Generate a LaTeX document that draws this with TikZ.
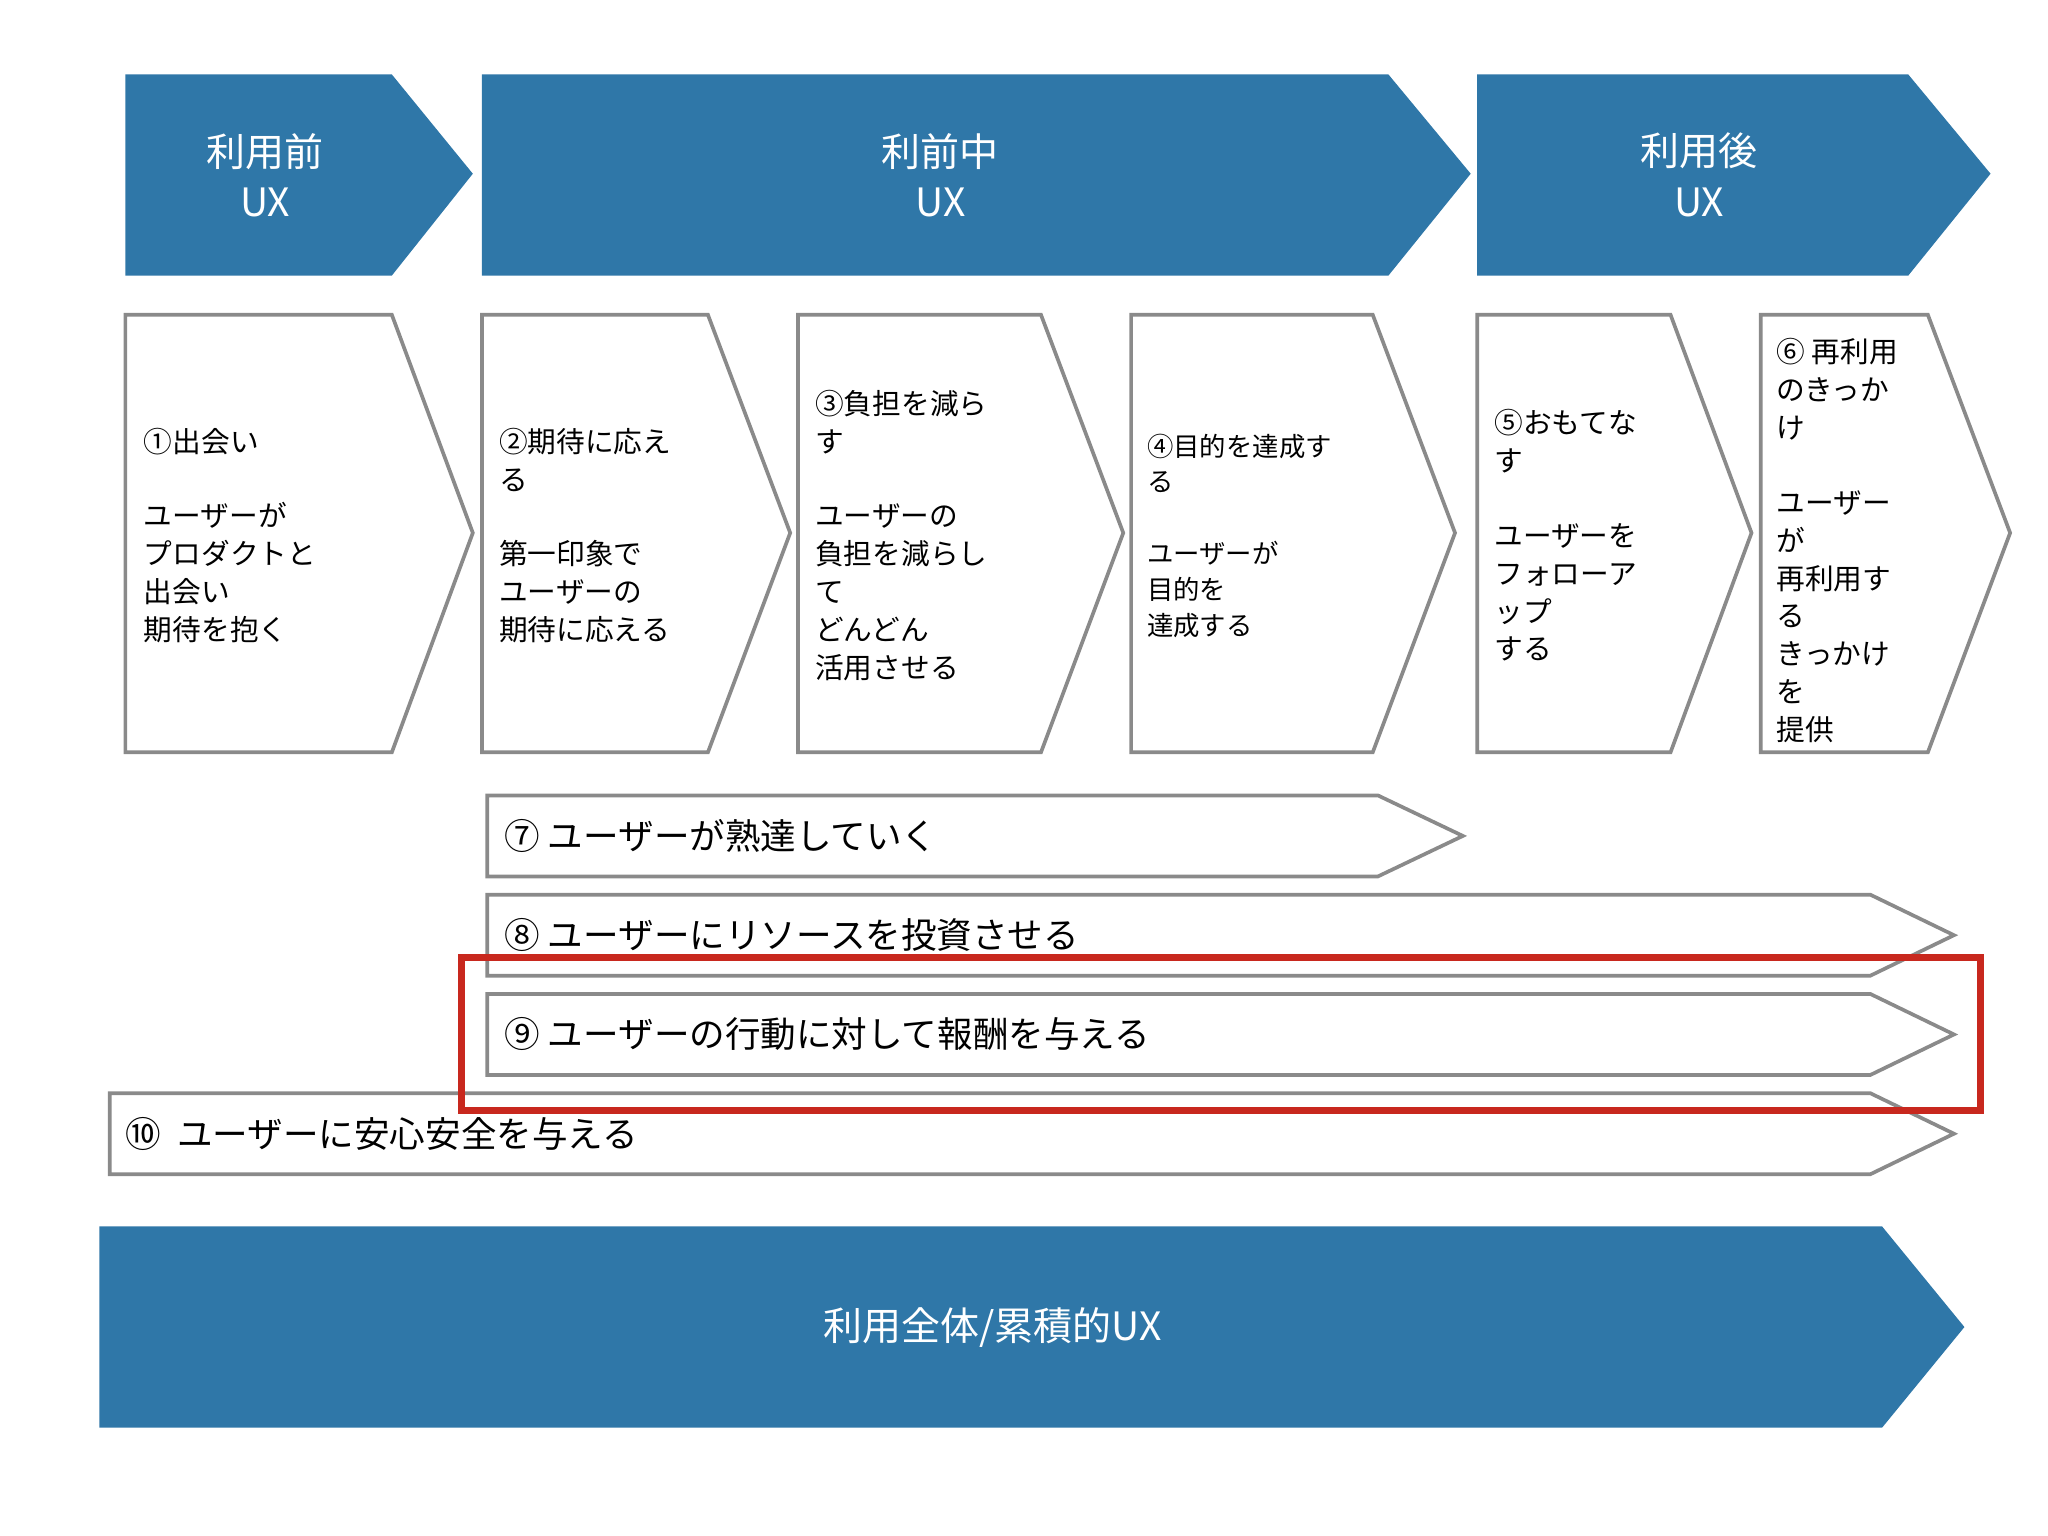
\documentclass[tikz,border=0pt]{standalone}
\usepackage{fontspec}
\setmainfont{Noto Sans CJK JP}
\begin{document}
\begin{tikzpicture}[x=0.02cm,y=-0.02cm]
\definecolor{ublue}{HTML}{2F77A8}
\definecolor{ugray}{HTML}{8A8A8A}
\definecolor{ured}{HTML}{C8281E}
\tikzset{
  bluechev/.style={fill=ublue,draw=none},
  whitechev/.style={fill=white,draw=ugray,line width=1.6pt},
  toplabel/.style={text=white,align=center,font=\fontsize{17}{22}\selectfont},
  boxtext/.style={anchor=west,align=left,font=\fontsize{12.5}{16.5}\selectfont},
  bartext/.style={anchor=west,font=\fontsize{15.5}{19}\selectfont}
}
\useasboundingbox (0,0) rectangle (1568,1176);
% top chevrons
\path[bluechev] (96,57) -- (300,57) -- (362,133) -- (300,211) -- (96,211) -- cycle;
\node[toplabel] (t1) at (203,134) {利用前\\UX};
\path[bluechev] (369,57) -- (1063,57) -- (1126,133) -- (1063,211) -- (369,211) -- cycle;
\node[toplabel] (t2) at (720,134) {利前中\\UX};
\path[bluechev] (1131,57) -- (1461,57) -- (1524,133) -- (1461,211) -- (1131,211) -- cycle;
\node[toplabel] (t3) at (1301,134) {利用後\\UX};
% step chevrons
\draw[whitechev] (96,241) -- (300,241) -- (362,408) -- (300,576) -- (96,576) -- cycle;
\node[boxtext] (b1) at (104,410) {①出会い\\[16pt]ユーザーが\\プロダクトと\\出会い\\期待を抱く};
\draw[whitechev] (369,241) -- (542,241) -- (605,408) -- (542,576) -- (369,576) -- cycle;
\node[boxtext] (b2) at (376,410) {②期待に応え\\る\\[16pt]第一印象で\\ユーザーの\\期待に応える};
\draw[whitechev] (611,241) -- (797,241) -- (860,408) -- (797,576) -- (611,576) -- cycle;
\node[boxtext] (b3) at (618,410) {③負担を減ら\\す\\[16pt]ユーザーの\\負担を減らし\\て\\どんどん\\活用させる};
\draw[whitechev] (866,241) -- (1051,241) -- (1114,408) -- (1051,576) -- (866,576) -- cycle;
\node[boxtext,font=\fontsize{11.5}{15.5}\selectfont] (b4) at (872,410) {④目的を達成す\\る\\[16pt]ユーザーが\\目的を\\達成する};
\draw[whitechev] (1131,241) -- (1279,241) -- (1341,408) -- (1279,576) -- (1131,576) -- cycle;
\node[boxtext] (b5) at (1138,410) {⑤おもてな\\す\\[16pt]ユーザーを\\フォローア\\ップ\\する};
\draw[whitechev] (1348,241) -- (1476,241) -- (1539,408) -- (1476,576) -- (1348,576) -- cycle;
\node[boxtext] (b6) at (1354,414) {⑥ 再利用\\のきっか\\け\\[16pt]ユーザー\\が\\再利用す\\る\\きっかけ\\を\\提供};
% bars
\draw[whitechev] (373,609) -- (1055,609) -- (1120,640) -- (1055,671) -- (373,671) -- cycle;
\node[bartext] (r7) at (380,640) {⑦ ユーザーが熟達していく};
\draw[whitechev] (373,685) -- (1432,685) -- (1496,716) -- (1432,747) -- (373,747) -- cycle;
\node[bartext] (r8) at (380,716) {⑧ ユーザーにリソースを投資させる};
\draw[whitechev] (373,761) -- (1432,761) -- (1496,792) -- (1432,823) -- (373,823) -- cycle;
\node[bartext] (r9) at (380,792) {⑨ ユーザーの行動に対して報酬を与える};
\draw[whitechev] (84,837) -- (1432,837) -- (1496,868) -- (1432,899) -- (84,899) -- cycle;
\node[bartext] (r10) at (90,868) {⑩ \ ユーザーに安心安全を与える};
% red highlight
\draw[ured,line width=3pt] (353,733) rectangle (1516,850);
% bottom chevron
\path[bluechev] (76,939) -- (1441,939) -- (1504,1016) -- (1441,1093) -- (76,1093) -- cycle;
\node[toplabel] (bt) at (760,1016) {利用全体/累積的UX};
\end{tikzpicture}
\end{document}
